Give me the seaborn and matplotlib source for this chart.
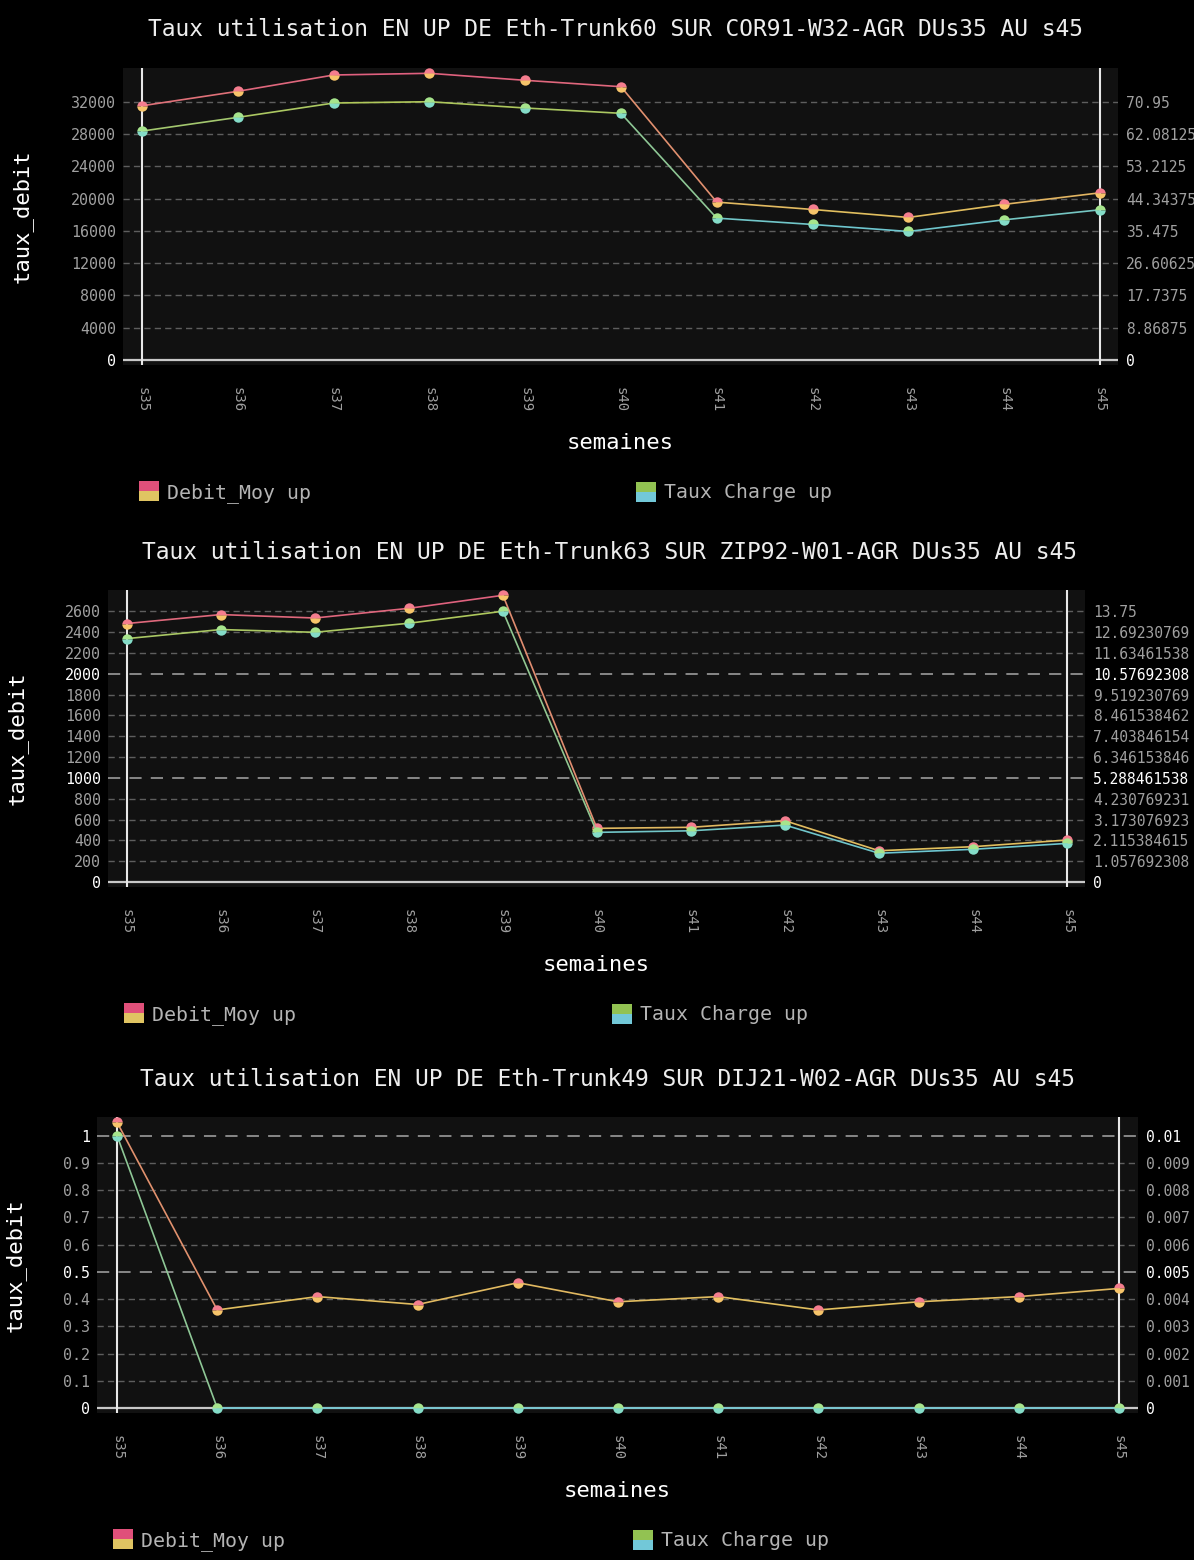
import numpy as np
import pandas as pd
import seaborn as sns
import matplotlib.pyplot as plt
from matplotlib.lines import Line2D
from matplotlib.colors import LinearSegmentedColormap, to_hex

semaines = ['s35', 's36', 's37', 's38', 's39', 's40', 's41', 's42', 's43', 's44', 's45']

titres = [
    'Taux utilisation EN UP DE Eth-Trunk60 SUR COR91-W32-AGR DUs35 AU s45',
    'Taux utilisation EN UP DE Eth-Trunk63 SUR ZIP92-W01-AGR DUs35 AU s45',
    'Taux utilisation EN UP DE Eth-Trunk49 SUR DIJ21-W02-AGR DUs35 AU s45',
]

debit_cor91 = [31500, 33290, 35310, 35520, 34650, 33860, 19560, 18650, 17660, 19280, 20710]
charge_cor91 = [62.89, 66.66, 70.59, 70.95, 69.22, 67.76, 38.97, 37.23, 35.30, 38.50, 41.25]

debit_zip92 = [2482, 2568, 2535, 2628, 2753, 515, 525, 588, 300, 339, 403]
charge_zip92 = [12.36, 12.82, 12.68, 13.14, 13.75, 2.52, 2.60, 2.89, 1.46, 1.66, 1.96]

debit_dij21 = [1.049, 0.36, 0.409, 0.38, 0.46, 0.39, 0.409, 0.36, 0.39, 0.409, 0.439]
charge_dij21 = [0.01, 0, 0, 0, 0, 0, 0, 0, 0, 0, 0]

yticks_cor91 = [0, 4000, 8000, 12000, 16000, 20000, 24000, 28000, 32000]
yticks_zip92 = [0, 200, 400, 600, 800, 1000, 1200, 1400, 1600, 1800, 2000, 2200, 2400, 2600]
yticks_dij21 = [0, 0.1, 0.2, 0.3, 0.4, 0.5, 0.6, 0.7, 0.8, 0.9, 1]
majeurs_cor91 = [0]
majeurs_zip92 = [0, 1000, 2000]
majeurs_dij21 = [0, 0.5, 1]

legende = ['Debit_Moy up', 'Taux Charge up']

W, H = 1194, 1560
sns.set_theme(style='dark', rc={'axes.facecolor': '#111111', 'figure.facecolor': 'black'})
plt.rcParams['font.family'] = ['DejaVu Sans Mono', 'DejaVu Sans']

fig = plt.figure(figsize=(W / 100, H / 100), dpi=100)

# (gauche, droite, haut, bas) en pixels, x du titre, x du label y
cadres = [
    dict(box=(123, 1118, 68, 365), tx=615, ylx=22),
    dict(box=(108, 1085, 590, 887), tx=609, ylx=17),
    dict(box=(97, 1138, 1117, 1413), tx=607, ylx=15),
]

DEB_HAUT, DEB_BAS = '#e0607f', '#e2c25e'
CH_HAUT, CH_BAS = '#b0c85a', '#6cc6d2'
DOT_DEB = ('#f47d8e', '#f6c46a')
DOT_CH = ('#a6e48c', '#84dcc8')


def trace_degrade(ax, y, c_haut, c_bas, dots):
    y = np.asarray(y, float)
    lo, hi = y.min(), y.max()
    cmap = LinearSegmentedColormap.from_list('g', [c_bas, c_haut])
    rows, pal = [], []
    for i in range(len(y) - 1):
        t = ((y[i] + y[i + 1]) / 2 - lo) / (hi - lo) if hi > lo else 0.5
        pal.append(to_hex(cmap(t)))
        rows += [(i, y[i], i), (i + 1, y[i + 1], i)]
    df = pd.DataFrame(rows, columns=['x', 'y', 'seg'])
    sns.lineplot(data=df, x='x', y='y', hue='seg', palette=pal, legend=False,
                 linewidth=1.2, estimator=None, sort=False, ax=ax)
    sns.lineplot(x=np.arange(len(y)), y=y, linewidth=0, marker='o', markersize=7.5,
                 fillstyle='top', markerfacecolor=dots[0], markerfacecoloralt=dots[1],
                 markeredgewidth=0, color=dots[0], ax=ax)


series = [
    (debit_cor91, charge_cor91, yticks_cor91, majeurs_cor91),
    (debit_zip92, charge_zip92, yticks_zip92, majeurs_zip92),
    (debit_dij21, charge_dij21, yticks_dij21, majeurs_dij21),
]

x = np.arange(len(semaines))
for k, ((debit, charge, yt, maj), cad) in enumerate(zip(series, cadres)):
    l, r, t, b = cad['box']
    ax = fig.add_axes([l / W, 1 - b / H, (r - l) / W, (b - t) / H])
    ymax = max(debit)
    ax.set_ylim(-0.0175 * ymax, 1.0185 * ymax)
    ax.set_xlim(-0.2, 10.19)

    for v in yt[1:]:
        if v in maj:
            ax.axhline(v, color='#a8a8a8', lw=1.1, dashes=(8, 6), zorder=0.5)
        else:
            ax.axhline(v, color='#5e5e5e', lw=1.0, dashes=(4.5, 3), zorder=0.5)
    ax.axhline(0, color='#c8c8c8', lw=1.6, zorder=1)
    ax.axvline(0, color='#e8e8e8', lw=1.5, zorder=1)
    ax.axvline(10, color='#e8e8e8', lw=1.5, zorder=1)

    trace_degrade(ax, debit, DEB_HAUT, DEB_BAS, DOT_DEB)

    ax.set_yticks(yt)
    ax.set_yticklabels(['{:g}'.format(v) for v in yt])
    for v, lab in zip(yt, ax.get_yticklabels()):
        lab.set_color('#ffffff' if v in maj else '#a0a0a0')
    ax.set_xticks(x)
    ax.set_xticklabels(semaines, rotation=-90, color='#a0a0a0', fontsize=10)
    ax.tick_params(axis='y', length=0, pad=5, labelsize=10.8)
    ax.tick_params(axis='x', length=0, pad=16)
    ax.set_xlabel('')
    ax.set_ylabel('')
    ax.grid(False)
    for s in ax.spines.values():
        s.set_visible(False)

    # axe secondaire : Taux Charge
    ratio = max(charge) / yt[-1]
    tw = ax.twinx()
    lo, hi = ax.get_ylim()
    tw.set_ylim(lo * ratio, hi * ratio)
    trace_degrade(tw, charge, CH_HAUT, CH_BAS, DOT_CH)
    tw.set_yticks([v * ratio for v in yt])
    tw.set_yticklabels(['{:.10g}'.format(v * ratio) for v in yt])
    for v, lab in zip(yt, tw.get_yticklabels()):
        lab.set_color('#ffffff' if v in maj else '#a0a0a0')
    tw.tick_params(axis='y', length=0, pad=6, labelsize=10.5)
    tw.set_ylabel('')
    tw.grid(False)
    for s in tw.spines.values():
        s.set_visible(False)

    fig.text(cad['tx'] / W, 1 - (t - 38) / H, titres[k], ha='center', va='center',
             color='#eeeeee', fontsize=16.5)
    fig.text(cad['ylx'] / W, 1 - ((t + b) / 2) / H, 'taux_debit', rotation=90,
             ha='center', va='center', color='white', fontsize=16)
    fig.text(((l + r) / 2) / W, 1 - (b + 78) / H, 'semaines', ha='center',
             va='center', color='white', fontsize=16)

    hd = Line2D([], [], marker='s', markersize=14, linestyle='', fillstyle='top',
                markerfacecolor='#e0507a', markerfacecoloralt='#e0c462', markeredgewidth=0)
    hc = Line2D([], [], marker='s', markersize=14, linestyle='', fillstyle='top',
                markerfacecolor='#92c252', markerfacecoloralt='#72c8d8', markeredgewidth=0)
    for h, lab, xp in [(hd, legende[0], l + 16), (hc, legende[1], (l + r) / 2 + 16)]:
        fig.legend(handles=[h], labels=[lab], loc='center left',
                   bbox_to_anchor=(xp / W, 1 - (b + 128) / H), frameon=False,
                   borderpad=0, borderaxespad=0, handlelength=1.0, handletextpad=0.4,
                   fontsize=14.3, labelcolor='#b4b4b4')

fig.savefig('out.png', dpi=100, facecolor='black')
